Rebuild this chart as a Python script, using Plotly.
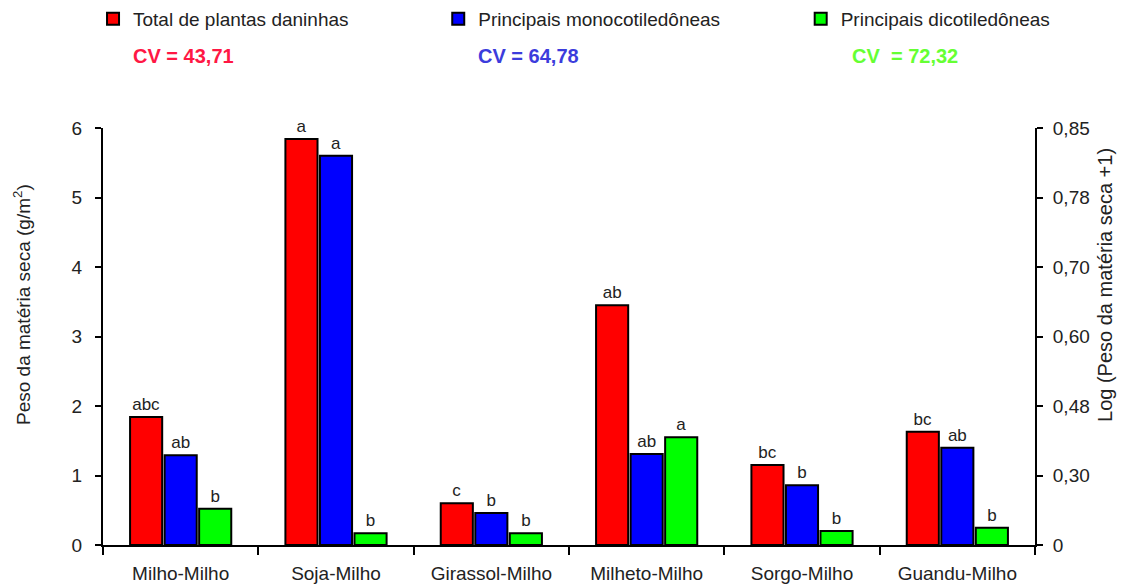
import plotly.graph_objects as go

# dados
sistemas = ['Milho-Milho', 'Soja-Milho', 'Girassol-Milho', 'Milheto-Milho', 'Sorgo-Milho', 'Guandu-Milho']
total = [1.84, 5.84, 0.60, 3.45, 1.15, 1.63]
mono = [1.29, 5.60, 0.46, 1.31, 0.86, 1.40]
dico = [0.52, 0.17, 0.17, 1.55, 0.20, 0.25]
letras_total = ['abc', 'a', 'c', 'ab', 'bc', 'bc']
letras_mono = ['ab', 'a', 'b', 'ab', 'b', 'ab']
letras_dico = ['b', 'b', 'b', 'a', 'b', 'b']
nomes = ['Total de plantas daninhas', 'Principais monocotiledôneas', 'Principais dicotiledôneas']
cvs = ['CV = 43,71', 'CV = 64,78', 'CV  = 72,32']
cv_cores = ['#ff1744', '#3c3cdc', '#66ff33']
log_ticks = ['0', '0,30', '0,48', '0,60', '0,70', '0,78', '0,85']

FONT = 'Liberation Sans, Arial, sans-serif'
cores = ['#ff0000', '#0000ff', '#00ff00']

fig = go.Figure()
series = [total, mono, dico]
letras = [letras_total, letras_mono, letras_dico]
legends = ['legend', 'legend2', 'legend3']
for i in range(3):
    fig.add_trace(go.Bar(
        x=sistemas, y=series[i], name=nomes[i],
        marker=dict(color=cores[i], line=dict(color='black', width=2)),
        text=letras[i], textposition='outside', constraintext='none',
        textfont=dict(family=FONT, size=17, color='#222'),
        cliponaxis=False, legend=legends[i],
    ))

# eixo da direita (log)
fig.add_trace(go.Scatter(x=sistemas, y=[0] * 6, yaxis='y2', mode='none',
                         showlegend=False, hoverinfo='skip'))

leg_x = [-0.0107, 0.3597, 0.7486]
leg_common = dict(orientation='h', yanchor='top', y=1.307, font=dict(family=FONT, size=19, color='#222'),
                  bgcolor='rgba(0,0,0,0)')
fig.update_layout(
    legend=dict(x=leg_x[0], **leg_common),
    legend2=dict(x=leg_x[1], **leg_common),
    legend3=dict(x=leg_x[2], **leg_common),
)

cv_x = [0.030, 0.400, 0.8016]
for i in range(3):
    fig.add_annotation(x=cv_x[i], y=1.173, xref='paper', yref='paper',
                       xanchor='left', yanchor='middle', showarrow=False,
                       text='<b>' + cvs[i] + '</b>',
                       font=dict(family=FONT, size=20, color=cv_cores[i]))

# títulos dos eixos
fig.add_annotation(x=-0.0869, y=0.5755, xref='paper', yref='paper', textangle=-90,
                   xanchor='center', yanchor='middle',
                   showarrow=False, text='Peso da matéria seca (g/m<sup>2</sup>)',
                   font=dict(family=FONT, size=19, color='#222'))
fig.add_annotation(x=1.0751, y=0.6235, xref='paper', yref='paper', textangle=-90,
                   xanchor='center', yanchor='middle',
                   showarrow=False, text='Log (Peso da matéria seca +1)',
                   font=dict(family=FONT, size=20, color='#222'))

fig.update_layout(
    width=1118, height=577,
    margin=dict(l=95, r=91, t=120, b=40, autoexpand=False),
    plot_bgcolor='white', paper_bgcolor='white',
    barmode='group', bargap=0.333, bargroupgap=0.07,
    font=dict(family=FONT, size=19, color='#222'),
    xaxis=dict(showline=True, linecolor='black', linewidth=2, ticks='outside',
               tickson='boundaries', ticklen=8, tickwidth=2, tickcolor='black',
               showgrid=False, tickfont=dict(size=19), ticklabelstandoff=10),
    yaxis=dict(range=[0, 6], tickvals=[0, 1, 2, 3, 4, 5, 6], showline=True,
               linecolor='black', linewidth=2, ticks='outside', ticklen=6,
               tickwidth=2, tickcolor='black', showgrid=False, zeroline=False,
               ticklabelstandoff=9, tickfont=dict(size=19)),
    yaxis2=dict(range=[0, 6], overlaying='y', side='right', tickvals=[0, 1, 2, 3, 4, 5, 6],
                ticktext=log_ticks, showline=True, linecolor='black', linewidth=2,
                ticks='outside', ticklen=6, tickwidth=2, tickcolor='black',
                showgrid=False, zeroline=False, ticklabelstandoff=6,
                tickfont=dict(size=19)),
)

fig.write_html("out.html")
